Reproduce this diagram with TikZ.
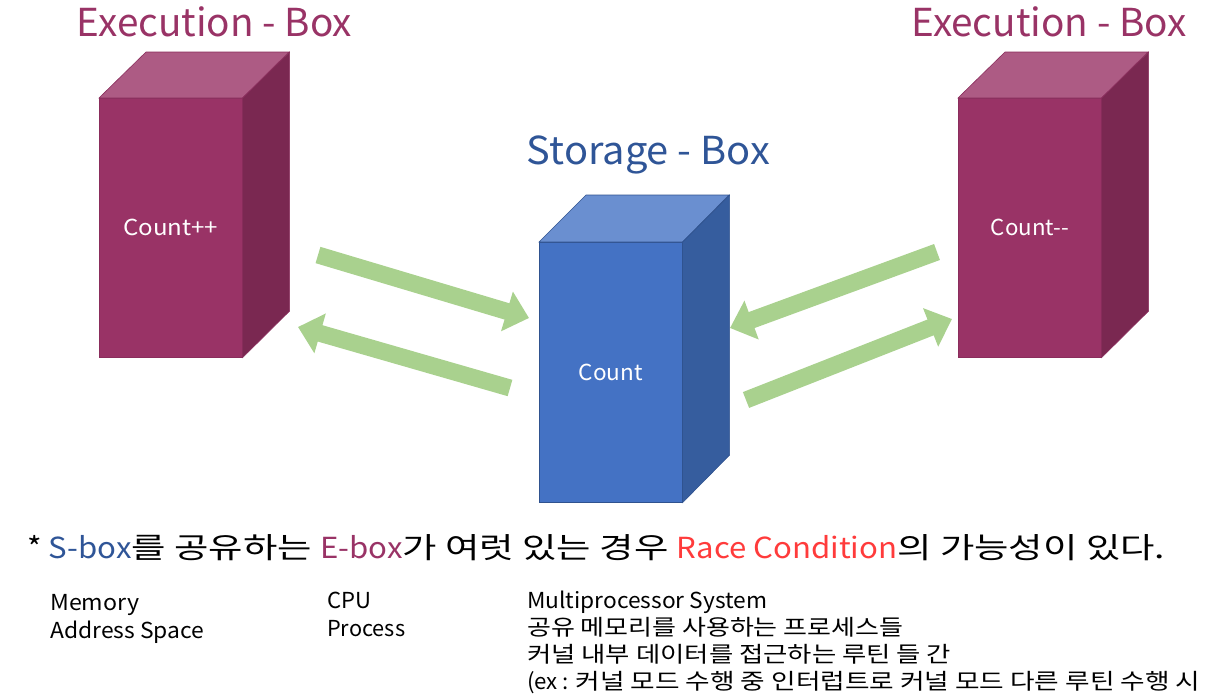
\documentclass[tikz,border=0pt]{standalone}
\usepackage{fontspec}
\usepackage{graphicx}
\setmainfont{Noto Sans CJK KR}
\newfontfamily\kr[FakeStretch=1.2]{Noto Sans CJK KR}
\usetikzlibrary{arrows.meta}
\definecolor{epurple}{HTML}{993366}
\definecolor{etop}{HTML}{AD5B84}
\definecolor{eside}{HTML}{7A2851}
\definecolor{eline}{HTML}{8A2D5C}
\definecolor{bfront}{HTML}{4472C4}
\definecolor{btop}{HTML}{6A8FD0}
\definecolor{bside}{HTML}{365D9E}
\definecolor{bline}{HTML}{2F528F}
\definecolor{stitle}{HTML}{2F5597}
\definecolor{garr}{HTML}{A9D18E}
\definecolor{racered}{HTML}{FF3B3B}
\newcommand{\fitw}[2]{\resizebox{#1}{\height}{#2}}
\begin{document}
\begin{tikzpicture}[x=1pt,y=-1pt,
  ebox/.style={fill=epurple,draw=eline,line width=0.6pt,minimum width=143pt,minimum height=259pt,anchor=north west,inner sep=0pt,text=white,font=\fontsize{22}{26}\selectfont},
  bbox/.style={fill=bfront,draw=bline,line width=0.6pt,minimum width=143pt,minimum height=260pt,anchor=north west,inner sep=0pt,text=white,font=\fontsize{22}{26}\selectfont},
  title/.style={font=\fontsize{38.5}{44}\selectfont,inner sep=0pt},
  garrow/.style={draw=garr,line width=17pt,-{Triangle[length=23pt,width=40pt]}},
  lbl/.style={font=\fontsize{22}{27}\selectfont,anchor=base west,inner sep=0pt}
]
\useasboundingbox (0,0) rectangle (1210,699);

% left execution box
\node[ebox] (L) at (99,98) {\fitw{95pt}{Count++}};
\fill[etop,draw=eline,line width=0.6pt] (L.north west) -- ++(47,-46) -- ++(143,0) -- (L.north east) -- cycle;
\fill[eside,draw=eline,line width=0.6pt] (L.north east) -- ++(47,-46) -- ++(0,259) -- (L.south east) -- cycle;

% right execution box
\node[ebox] (R) at (958,98) {\fitw{78pt}{Count{-}{-}}};
\fill[etop,draw=eline,line width=0.6pt] (R.north west) -- ++(47,-46) -- ++(143,0) -- (R.north east) -- cycle;
\fill[eside,draw=eline,line width=0.6pt] (R.north east) -- ++(47,-46) -- ++(0,259) -- (R.south east) -- cycle;

% storage box
\node[bbox] (S) at (539,242) {\fitw{64pt}{Count}};
\filldraw[fill=btop,draw=bline,line width=0.6pt] (S.north west) -- ++(47,-47) -- ++(143,0) -- (S.north east) -- cycle;
\filldraw[fill=bside,draw=bline,line width=0.6pt] (S.north east) -- ++(47,-47) -- ++(0,260) -- (S.south east) -- cycle;

% titles
\node[title,text=epurple] (tL) at (214.5,22) {\fitw{275pt}{Execution - Box}};
\node[title,text=epurple] (tR) at (1049,22) {\fitw{275pt}{Execution - Box}};
\node[title,text=stitle] (tS) at (648.5,155) {\fitw{243pt}{Storage - Box}};

% arrows
\coordinate (a1s) at (318,255); \coordinate (a1e) at (529,318);
\coordinate (a2s) at (510,388); \coordinate (a2e) at (298,327);
\coordinate (a3s) at (937,252); \coordinate (a3e) at (730,328);
\coordinate (a4s) at (746,400); \coordinate (a4e) at (952,319);
\draw[garrow] (a1s) -- (a1e);
\draw[garrow] (a2s) -- (a2e);
\draw[garrow] (a3s) -- (a3e);
\draw[garrow] (a4s) -- (a4e);

% main sentence
\node[font=\fontsize{29}{36}\selectfont,anchor=base west,inner sep=0pt] (note) at (27,558)
  {\fitw{1138pt}{* {\color{stitle}S-box}{\kr 를 공유하는 }{\color{epurple}E-box}{\kr 가 여럿 있는 경우 }{\color{racered}Race Condition}{\kr 의 가능성이 있다.}}};

% bottom labels
\node[lbl] (m1a) at (50,610) {\fitw{89pt}{Memory}};
\node[lbl] (m1b) at (50,638) {\fitw{154pt}{Address Space}};
\node[lbl] (m2a) at (327,608) {\fitw{44pt}{CPU}};
\node[lbl] (m2b) at (327,636) {\fitw{78pt}{Process}};
\node[lbl] (m3a) at (527,608) {\fitw{240pt}{Multiprocessor System}};
\node[lbl] (m3b) at (527,635) {\fitw{376pt}{\kr 공유 메모리를 사용하는 프로세스들}};
\node[lbl] (m3c) at (527,662) {\fitw{424pt}{\kr 커널 내부 데이터를 접근하는 루틴 들 간}};
\node[lbl] (m3d) at (527,689) {\fitw{673pt}{(ex : {\kr 커널 모드 수행 중 인터럽트로 커널 모드 다른 루틴 수행 시}}};
\end{tikzpicture}
\end{document}
